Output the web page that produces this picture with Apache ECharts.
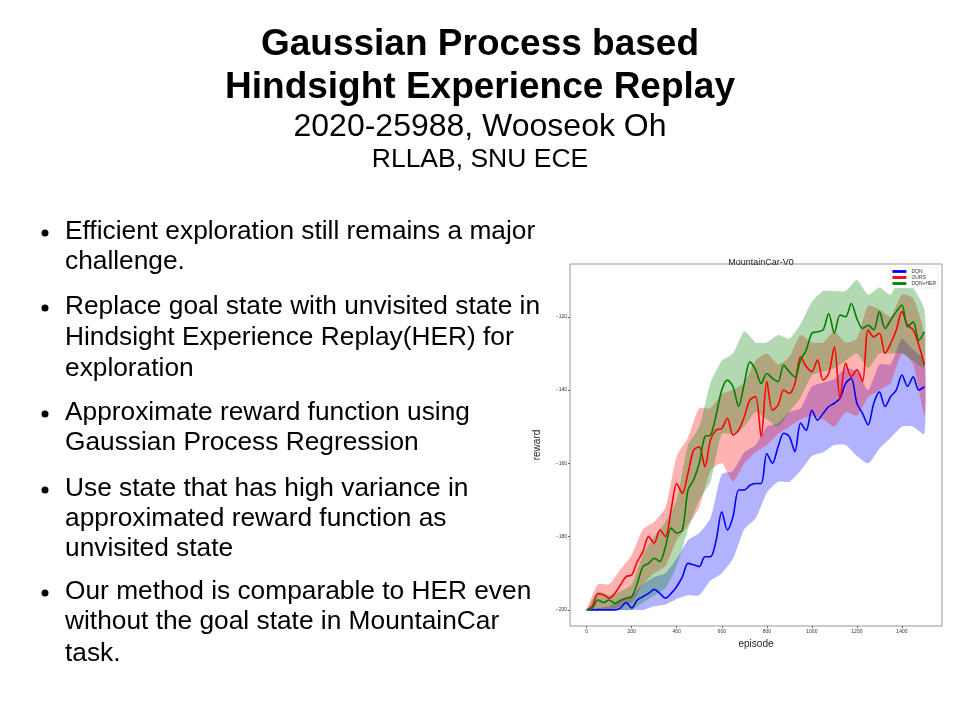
<!DOCTYPE html>
<html><head><meta charset="utf-8">
<script src="https://cdn.jsdelivr.net/npm/echarts@6/dist/echarts.min.js"></script>
<style>html,body{margin:0;padding:0;background:#fff}#c{width:960px;height:720px}</style>
</head><body><div id="c"></div>
<script>
const lineEp = [];for(let e=0;e<=1500;e+=25)lineEp.push(e);
const bandEp = [];for(let e=0;e<=1500;e+=50)bandEp.push(e);
const dqn = [-200,-200,-200,-200,-200,-200,-199.5,-198,-199.5,-197.3,-196.4,-195.5,-194.4,-195.5,-196.8,-195.5,-193.6,-191,-187.3,-187.7,-188.2,-185.5,-185.5,-181,-173.2,-178.2,-174.5,-167.3,-167.3,-166,-165.5,-165.5,-157.3,-160,-155.5,-151.8,-152.7,-156.8,-149,-151,-145.5,-148.2,-146.4,-144.5,-143.6,-142.3,-138.2,-136.8,-143.6,-146.4,-149.5,-143.6,-140.5,-144.5,-141.8,-140,-135.9,-139,-136.4,-140,-139.1];
const ours = [-200,-199,-195.6,-195.9,-196.8,-195.5,-193.2,-190.9,-190.5,-186.8,-184.1,-180,-181.8,-178.2,-180,-172.7,-165.5,-168.2,-162.7,-156.4,-155.5,-160.9,-153.6,-150.9,-150.5,-147.7,-152.3,-150.9,-147.3,-142.7,-141.8,-152.7,-137.7,-145.5,-144.1,-140,-140.9,-138.2,-130.9,-133.6,-135,-131.8,-137.3,-135.5,-128.2,-142.3,-132.7,-136.4,-134.5,-137.7,-123.6,-125.5,-124.5,-130,-127.3,-123.6,-118.6,-122.3,-123.6,-127.7,-133.2];
const dqnHer = [-200,-199.5,-197.3,-198,-197.3,-198.2,-197.5,-196.8,-196.4,-192.7,-188.2,-187.3,-185.9,-186.8,-182.7,-177.7,-179,-178.2,-167.3,-164.5,-160,-152.7,-152.3,-146.8,-140,-137.3,-139.1,-144.5,-138.2,-132.3,-134.5,-138.2,-135.5,-136.8,-137.7,-133.2,-135,-136.4,-131.8,-129.1,-124.5,-124.1,-123.6,-119.1,-124.5,-119.5,-120,-116.4,-120.5,-123.2,-122.3,-123.6,-118.6,-123.2,-120.9,-118.6,-116.8,-122.7,-121.4,-126.4,-124.1];
const dqnUp = [-200,-199.5,-199,-197,-196,-193,-191,-190,-186,-181,-179,-175,-163,-162,-157,-155,-150,-149,-146,-145,-139,-138,-137,-134,-135,-140,-133,-133,-126,-129,-132];
const dqnLo = [-200,-200,-200,-200,-200,-200,-199,-198.5,-197,-196,-196,-192,-190,-186,-178,-175,-168,-165,-165,-162,-158,-157,-155,-155,-158,-160,-156,-153,-150,-150,-152];
const oursUp = [-200,-193,-193,-189,-185,-178,-176,-172,-158,-153,-145,-145,-141,-140,-138,-132,-130,-133,-131,-125,-127,-127,-124,-127,-126,-117,-118,-120,-114,-115,-125];
const oursLo = [-200,-200,-200,-199,-198,-193,-190,-188,-181,-177,-172,-162,-160,-165,-160,-157,-155,-152,-150,-148,-147,-148,-150,-146,-147,-142,-140,-138,-130,-133,-147];
const herUp = [-200,-195,-196,-195,-193,-185,-180,-176,-170,-155,-150,-138,-132,-130,-124,-127,-127,-125,-126,-122,-116,-113,-113,-113,-110,-114,-112,-114,-108,-112,-118];
const herLo = [-200,-200,-200,-200,-200,-198,-196,-194,-188,-178,-170,-165,-152,-152,-150,-146,-148,-150,-146,-142,-136,-135,-134,-132,-130,-134,-130,-130,-130,-132,-134];
const yTicks = [-200,-180,-160,-140,-120];
const xTicks = [0,200,400,600,800,1000,1200,1400];
const names = ['DQN','OURS','DQN+HER'];
const colors = ['#0000ff','#ff0000','#008000'];

function band(up, lo, color, z){
  const data = bandEp.map((e,i)=>[e, up[i], lo[i]]);
  return {type:'custom', silent:true, z:z, data:data, encode:{x:0,y:[1,2]},
    renderItem:function(params, api){
      if(params.dataIndex!==0) return;
      const pts=[];
      for(let i=0;i<data.length;i++) pts.push(api.coord([data[i][0],data[i][1]]));
      for(let i=data.length-1;i>=0;i--) pts.push(api.coord([data[i][0],data[i][2]]));
      return {type:'polygon', shape:{points:pts, smooth:0.2}, style:{fill:color, opacity:0.3}};
    }};
}
function line(name, vals, color){
  return {type:'line', name:name, data:lineEp.map((e,i)=>[e,vals[i]]), showSymbol:false, smooth:0.3,
    lineStyle:{color:color,width:1.6}, itemStyle:{color:color}, z:10};
}
const font = '"Liberation Sans", Arial, sans-serif';
const bullets = [
  [232,'Efficient exploration still remains a major'],[262,'challenge.'],
  [307,'Replace goal state with unvisited state in'],[338,'Hindsight Experience Replay(HER) for'],[369,'exploration'],
  [413,'Approximate reward function using'],[443,'Gaussian Process Regression'],
  [489,'Use state that has high variance in'],[519,'approximated reward function as'],[549,'unvisited state'],
  [592,'Our method is comparable to HER even'],[622,'without the goal state in MountainCar'],[654,'task.']
];
const dots = [232,307,413,489,592];
const graphics = [
  {type:'text', left:'center', top:26, style:{text:'Gaussian Process based', font:'bold 37px '+font, fill:'#000'}},
  {type:'text', left:'center', top:69, style:{text:'Hindsight Experience Replay', font:'bold 37px '+font, fill:'#000'}},
  {type:'text', left:'center', top:111, style:{text:'2020-25988, Wooseok Oh', font:'32px '+font, fill:'#000'}},
  {type:'text', left:'center', top:146, style:{text:'RLLAB, SNU ECE', font:'26.5px '+font, fill:'#000'}}
];
bullets.forEach(b=>graphics.push({type:'text', x:65, y:b[0], style:{text:b[1], font:'26.3px '+font, fill:'#000', verticalAlign:'middle'}}));
dots.forEach(y=>graphics.push({type:'circle', shape:{cx:45, cy:y+1, r:3.5}, style:{fill:'#000'}}));

const chart = echarts.init(document.getElementById('c'));
chart.setOption({
  animation:false,
  title:{text:'MountainCar-V0', left:756, top:253, textAlign:'center', textStyle:{fontSize:9, fontWeight:'normal', color:'#222', fontFamily:font}},
  legend:{data:names.map((n,i)=>({name:n, icon:'path://M0,0 L10,0 L10,2 L0,2 Z'})), orient:'vertical', right:22, top:267,
    itemWidth:14, itemHeight:3, itemGap:1, textStyle:{fontSize:5, color:'#333'}, backgroundColor:'#fff', borderColor:'#ddd', borderWidth:0.5, padding:2},
  grid:{left:570, right:18, top:264, bottom:94, show:true, borderColor:'#999', borderWidth:1},
  xAxis:{type:'value', min:-74, max:1578, name:'episode', nameLocation:'middle', nameGap:11,
    nameTextStyle:{fontSize:10, color:'#222', fontFamily:font},
    axisLine:{show:false, onZero:false}, splitLine:{show:false},
    axisTick:{customValues:xTicks, length:2, lineStyle:{color:'#666'}},
    axisLabel:{customValues:xTicks, fontSize:5, color:'#333', margin:3, formatter:v=>String(v)}},
  yAxis:{type:'value', min:-204.4, max:-105.6, name:'reward', nameLocation:'middle', nameGap:28, nameRotate:90,
    nameTextStyle:{fontSize:10, color:'#222', fontFamily:font},
    axisLine:{show:false, onZero:false}, splitLine:{show:false},
    axisTick:{customValues:yTicks, length:2, lineStyle:{color:'#666'}},
    axisLabel:{customValues:yTicks, fontSize:5, color:'#333', margin:3, formatter:v=>'\u2212'+Math.abs(v)}},
  graphic:graphics,
  series:[
    band(dqnUp,dqnLo,colors[0],1), band(oursUp,oursLo,colors[1],2), band(herUp,herLo,colors[2],3),
    line(names[0],dqn,colors[0]), line(names[1],ours,colors[1]), line(names[2],dqnHer,colors[2])
  ]
});
</script></body></html>
